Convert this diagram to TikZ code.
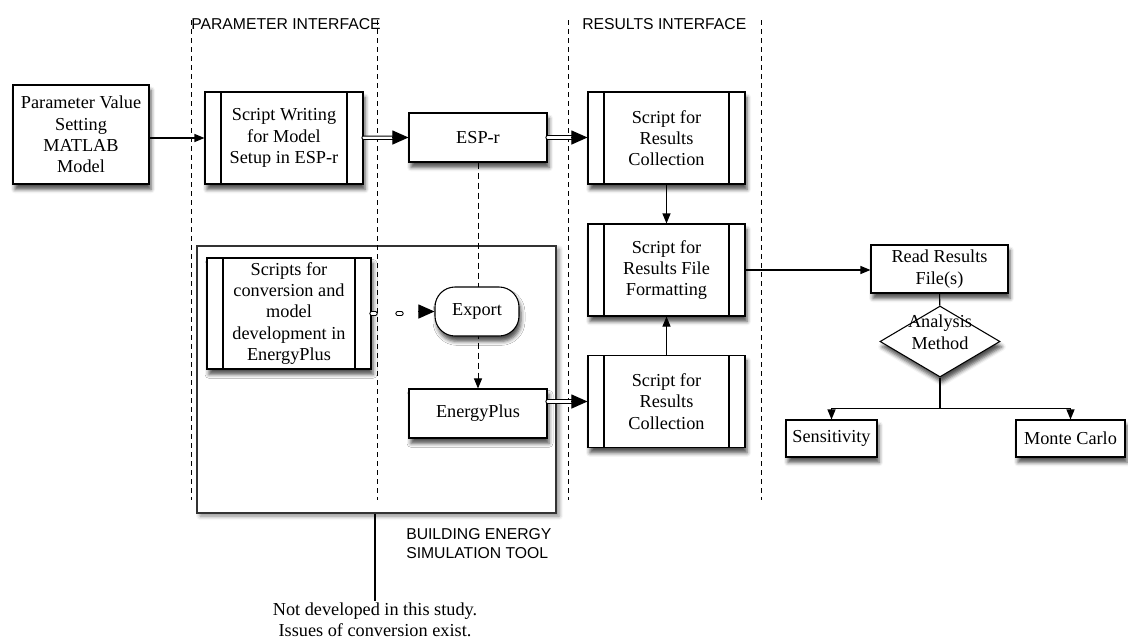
\documentclass[tikz,border=0pt]{standalone}
\usepackage{fontspec}
\setmainfont{Liberation Serif}
\newfontfamily\labelfont{Liberation Sans}
\usetikzlibrary{arrows.meta,shapes.geometric,shadows.blur}

\begin{document}
\begin{tikzpicture}[x=0.75pt,y=-0.75pt,
        font=\fontsize{13.7}{16}\selectfont,
        box/.style={draw,line width=0.8pt,fill=white,align=center,inner sep=0pt,
            blur shadow={shadow xshift=1.5pt,shadow yshift=-4pt,
                shadow blur radius=3pt,shadow opacity=70}},
        subbox/.style={box,path picture={
            \draw[line width=0.8pt] ([xshift=12pt]path picture bounding box.north west)
                -- ([xshift=12pt]path picture bounding box.south west);
            \draw[line width=0.8pt] ([xshift=-12pt]path picture bounding box.north east)
                -- ([xshift=-12pt]path picture bounding box.south east);}},
        lbl/.style={font=\labelfont\fontsize{11.8}{14.3}\selectfont,inner sep=0pt},
        sep/.style={line width=0.6pt,dash pattern=on 3.75pt off 3pt},
        arr/.style={-{Triangle[length=7.5pt,width=6pt]},line width=0.8pt},
        dbl/.style={double,double distance=1.8pt,line width=0.7pt,line cap=round,
            shorten >=11pt},
        tip/.style={-{Triangle[length=12pt,width=10.5pt]},line width=0.7pt}]
\useasboundingbox (0,0) rectangle (1128,640);

% simulation tool frame
\node[box,draw=black!80,minimum width=269.25pt,minimum height=200.25pt,
    blur shadow={shadow opacity=25}] (best) at (376.5,379.5) {};

% interfaces
\foreach \x in {191.5,377,568.5,761}
    \draw[sep] (\x,20) -- (\x,500);
\node[lbl,anchor=base west] (parlbl) at (191,29) {PARAMETER INTERFACE};
\node[lbl,anchor=base west] (reslbl) at (582,29) {RESULTS INTERFACE};
\node[lbl,anchor=west,align=left] (bestlbl) at (406,544) {BUILDING ENERGY\\SIMULATION TOOL};

\node[box,minimum width=102pt,minimum height=74.25pt] (param) at (81,134.5)
    {Parameter Value\\Setting\\MATLAB\\Model};
\node[subbox,minimum width=118.5pt,minimum height=69pt] (scrw) at (284,138)
    {Script Writing\\for Model\\Setup in ESP-r};
\node[box,minimum width=103.5pt,minimum height=36.75pt] (esp) at (478,137.5) {ESP-r};
\node[subbox,minimum width=123pt,minimum height=83.25pt] (conv) at (289,313.5)
    {Scripts for\\conversion and\\model\\development in\\EnergyPlus};
\node[box,minimum width=103.5pt,minimum height=36.75pt] (ep) at (478,413.5) {EnergyPlus};

\draw[arr,line width=0.7pt,dash pattern=on 4.5pt off 3pt] (esp) -- (ep);
\node[box,rounded corners=15pt,minimum width=63pt,minimum height=36.75pt] (export)
    at (477,311.5) {Export};

\node[subbox,minimum width=117.75pt,minimum height=69pt] (rc1) at (666.5,138)
    {Script for\\Results\\Collection};
\node[subbox,minimum width=117.75pt,minimum height=69pt] (fmt) at (666.5,270)
    {Script for\\Results File\\Formatting};
\node[subbox,minimum width=117.75pt,minimum height=69pt] (rc2) at (666.5,401.5)
    {Script for\\Results\\Collection};

\node[box,minimum width=102.75pt,minimum height=36pt] (read) at (939.5,269)
    {Read Results\\File(s)};
\node[box,diamond,minimum width=90pt,minimum height=53.25pt,
    label={[align=center,yshift=7pt]center:Analysis\\Method}] (method) at (940,341.5) {};
\node[box,minimum width=68.25pt,minimum height=27.75pt] (sens) at (831.5,438.5) {Sensitivity};
\node[box,minimum width=81.75pt,minimum height=27.75pt] (monte) at (1070.5,438.5) {Monte Carlo};

\node[align=center,inner sep=1pt] (note) at (375,619.5)
    {Not developed in this study.\\Issues of conversion exist.};

% connectors
\draw[arr] (param.east |- scrw.west) -- (scrw.west);
\draw[dbl] (scrw) -- (esp);
\draw[tip] ([xshift=-12pt]esp.west) -- (esp.west);
\draw[dbl] (esp) -- (rc1.west |- esp.east);
\draw[tip] ([xshift=-12pt]rc1.west |- esp.east) -- (rc1.west |- esp.east);
\draw[dbl,dash pattern=on 3pt off 16.5pt,shorten >=14pt] (conv.east) -- (conv.east -| export.west);
\draw[tip] ([xshift=-12pt]export.west) -- (export.west);
\draw[dbl] (ep.east |- rc2.west) -- (rc2.west);
\draw[tip] ([xshift=-12pt]rc2.west) -- (rc2.west);
\draw[arr] (rc1) -- (fmt);
\draw[arr] (rc2) -- (fmt);
\draw[arr] (fmt.east) -- (fmt.east -| read.west);
\draw[line width=0.8pt] (read) -- (method);
\draw[arr] (method.south) -- ++(0,31) -| (sens);
\draw[arr] (method.south) -- ++(0,31) -| (monte);
\draw[line width=0.8pt] (best.south -| note.north) -- (note.north);

\end{tikzpicture}
\end{document}
